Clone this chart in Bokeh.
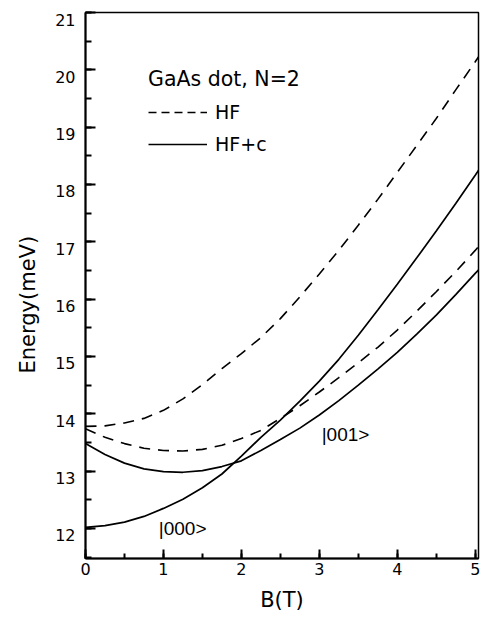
from bokeh.plotting import figure
from bokeh.models import (Range1d, SingleIntervalTicker, FixedTicker, Legend, LegendItem,
                          LinearAxis, Title, CustomJSTickFormatter)
from bokeh.core.properties import value
from bokeh.embed import file_html
from bokeh.resources import INLINE

# ---- data ----
B = [0, 0.25, 0.5, 0.75, 1.0, 1.25, 1.5, 1.75, 2.0, 2.25, 2.5, 2.75,
     3.0, 3.25, 3.5, 3.75, 4.0, 4.25, 4.5, 4.75, 5.0, 5.05]
hf_upper = [13.78, 13.79, 13.84, 13.92, 14.06, 14.26, 14.51, 14.79, 15.05, 15.33, 15.66, 16.04,
            16.44, 16.85, 17.29, 17.74, 18.21, 18.68, 19.15, 19.65, 20.14, 20.24]
hf_lower = [13.74, 13.59, 13.48, 13.40, 13.36, 13.35, 13.38, 13.45, 13.57, 13.71, 13.92, 14.14,
            14.38, 14.63, 14.89, 15.16, 15.46, 15.79, 16.13, 16.48, 16.85, 16.93]
hfc_001 = [13.48, 13.29, 13.14, 13.04, 12.99, 12.98, 13.01, 13.08, 13.18, 13.36, 13.55, 13.75,
           13.98, 14.23, 14.50, 14.78, 15.07, 15.39, 15.72, 16.08, 16.45, 16.52]
hfc_000 = [12.02, 12.05, 12.11, 12.21, 12.35, 12.51, 12.71, 12.95, 13.26, 13.59, 13.89, 14.22,
           14.57, 14.95, 15.37, 15.81, 16.26, 16.72, 17.19, 17.67, 18.16, 18.26]

y_ticks = [12, 13, 14, 15, 16, 17, 18, 19, 20, 21]
legend_title = "GaAs dot, N=2"
series_names = ["HF", "HF+c"]
state_labels = ["|000>", "|001>"]
state_B = [0.94, 3.03]
state_E = [12.0, 13.64]
x_title = "B(T)"
y_title = "Energy(meV)"

FONT = "DejaVu Sans"
NAN = float("nan")
Y0, Y1 = 11.476, 21.0
FRAME_H = 546
LABEL_DROP = 7 * (Y1 - Y0) / FRAME_H   # y tick labels sit ~7px below their ticks

p = figure(width=480, height=634, x_range=Range1d(0, 5.042), y_range=Range1d(Y0, Y1),
           output_backend="svg", toolbar_location=None,
           min_border_left=85, min_border_right=2, min_border_top=12, min_border_bottom=76)
p.background_fill_color = "white"
p.border_fill_color = "white"
p.outline_line_color = "black"
p.outline_line_width = 1.5
p.xgrid.visible = False
p.ygrid.visible = False

for ax in (p.xaxis[0], p.yaxis[0]):
    ax.ticker = SingleIntervalTicker(interval=1, num_minor_ticks=2)
    ax.major_tick_out = 0
    ax.minor_tick_out = 0
    ax.axis_line_width = 2
    ax.major_tick_line_width = 2
    ax.minor_tick_line_width = 2
    ax.axis_line_color = "black"
    ax.major_tick_line_color = "black"
    ax.minor_tick_line_color = "black"
    ax.major_label_text_font = FONT
    ax.major_label_text_font_size = "16px"
    ax.major_label_text_color = "black"

xa = p.xaxis[0]
xa.major_tick_in = 9
xa.minor_tick_in = 5
xa.major_label_standoff = 4
xa.axis_label = x_title
xa.axis_label_text_font = FONT
xa.axis_label_text_font_size = "21px"
xa.axis_label_text_font_style = "normal"
xa.axis_label_text_color = "black"
xa.axis_label_standoff = 10

ya = p.yaxis[0]
ya.major_tick_in = 10
ya.minor_tick_in = 6
ya.major_label_standoff = 0
ya.formatter = CustomJSTickFormatter(code="return ''")

# second left axis carrying only the tick labels, shifted slightly downwards
p.extra_y_ranges = {"labels": Range1d(Y0 + LABEL_DROP, Y1 + LABEL_DROP)}
lab_axis = LinearAxis(y_range_name="labels", ticker=FixedTicker(ticks=y_ticks, minor_ticks=[]),
                      axis_line_color=None, major_tick_line_color=None,
                      minor_tick_line_color=None, major_tick_in=0, major_tick_out=0,
                      minor_tick_in=0, minor_tick_out=0, major_label_standoff=10,
                      major_label_text_font=FONT, major_label_text_font_size="16px",
                      major_label_text_color="black")
p.add_layout(lab_axis, "left")

p.add_layout(Title(text=y_title, align="left", offset=185, standoff=25,
                   text_font=FONT, text_font_size="21px", text_font_style="normal",
                   text_color="black"), "left")

# curves
p.line(B, hf_upper, line_color="black", line_width=1.6, line_dash="11 8")
p.line(B, hf_lower, line_color="black", line_width=1.6, line_dash="11 8")
p.line(B, hfc_001, line_color="black", line_width=1.7)
p.line(B, hfc_000, line_color="black", line_width=1.7)

# legend sample lines (placeholders, nothing drawn in the frame)
l1 = p.line(x=[NAN], y=[NAN], line_color="black", line_width=1.5, line_dash="8 5")
l2 = p.line(x=[NAN], y=[NAN], line_color="black", line_width=1.5)
legend = Legend(items=[LegendItem(label=series_names[0], renderers=[l1]),
                       LegendItem(label=series_names[1], renderers=[l2])],
                title=legend_title, location=(63, 403), padding=0, margin=0,
                spacing=10, glyph_width=59, glyph_height=22, label_height=22,
                label_standoff=8, title_standoff=10,
                border_line_color=None, background_fill_alpha=0,
                label_text_font=FONT, label_text_font_size="19px", label_text_color="black",
                title_text_font=FONT, title_text_font_size="20.5px", title_text_color="black",
                title_text_font_style="normal")
p.add_layout(legend)

p.text(x=state_B, y=state_E, text=state_labels, text_align="left", text_baseline="middle",
       text_font=value("Liberation Sans"), text_font_size="19px", text_color="black")

open("out.html", "w").write(file_html(p, INLINE))
